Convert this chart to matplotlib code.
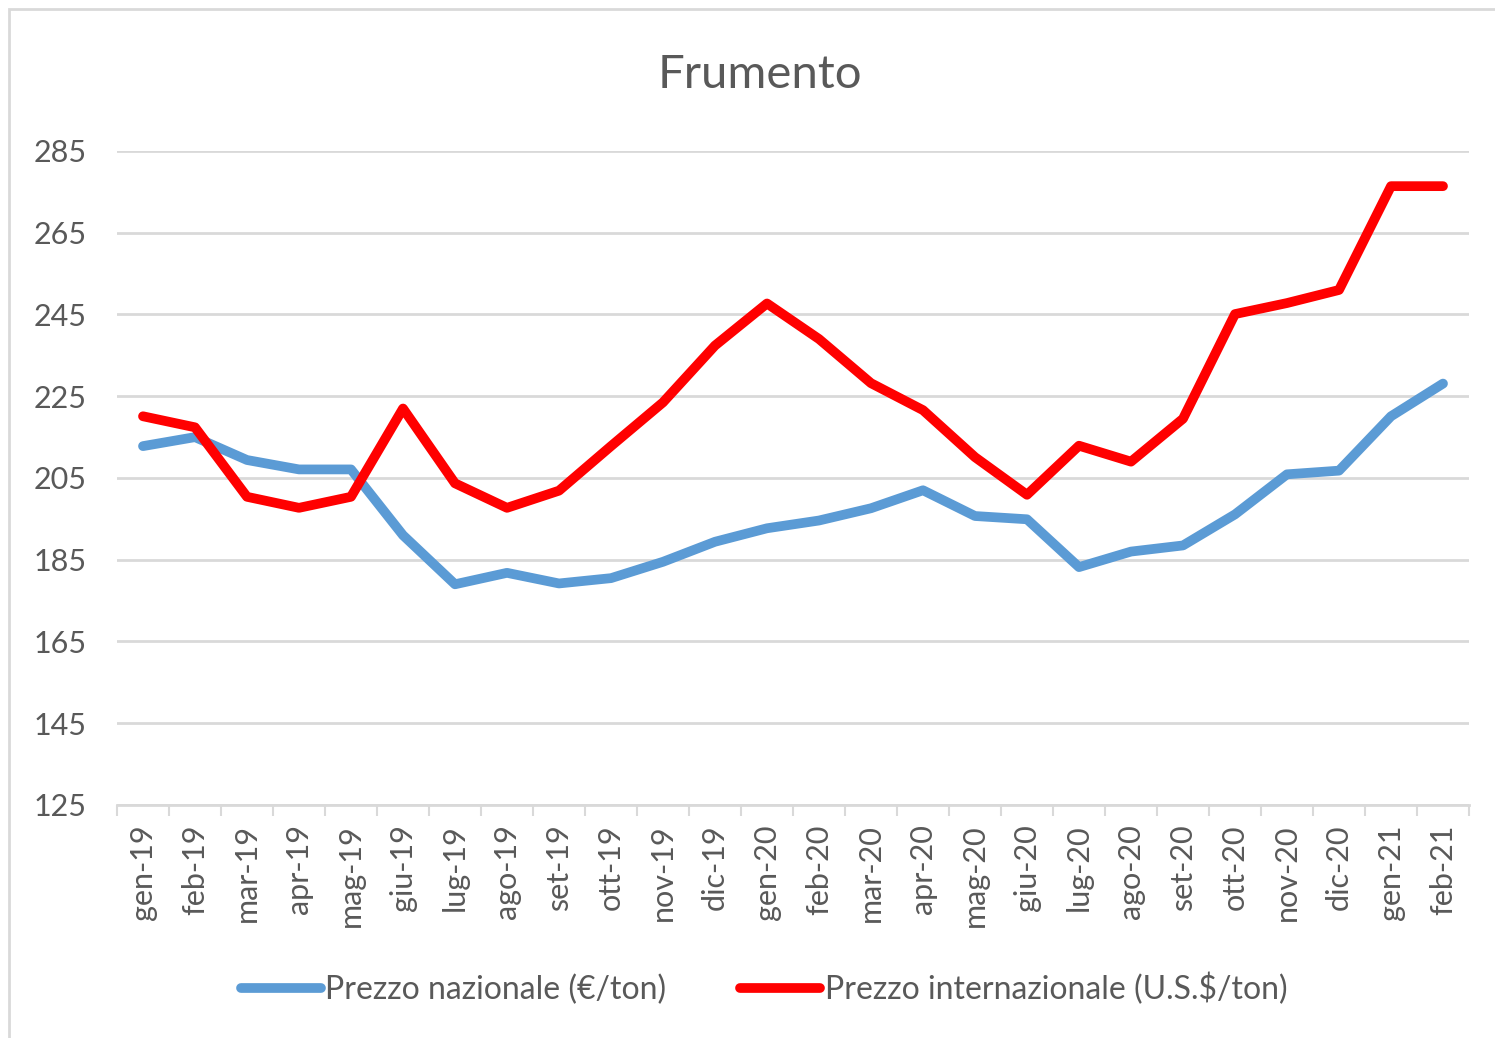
import numpy as np
import matplotlib.pyplot as plt
from matplotlib.patches import Rectangle

plt.rcParams['font.family'] = ['Lato', 'DejaVu Sans']

mesi = ['gen-19', 'feb-19', 'mar-19', 'apr-19', 'mag-19', 'giu-19', 'lug-19',
        'ago-19', 'set-19', 'ott-19', 'nov-19', 'dic-19', 'gen-20', 'feb-20',
        'mar-20', 'apr-20', 'mag-20', 'giu-20', 'lug-20', 'ago-20', 'set-20',
        'ott-20', 'nov-20', 'dic-20', 'gen-21', 'feb-21']

# prezzo nazionale (EUR/ton)
nazionale = [212.8, 215.0, 209.4, 207.1, 207.1, 191.0, 179.0, 181.8, 179.2,
             180.5, 184.5, 189.4, 192.7, 194.6, 197.6, 202.0, 195.7, 194.9,
             183.2, 187.0, 188.5, 196.1, 205.9, 206.8, 220.1, 228.1]

# prezzo internazionale (US$/ton)
internazionale = [220.1, 217.4, 200.4, 197.7, 200.4, 222.0, 203.7, 197.7, 201.9,
                  212.8, 223.5, 237.4, 247.7, 239.0, 228.2, 221.6, 210.1, 200.9,
                  212.9, 209.0, 219.5, 245.1, 247.8, 251.0, 276.4, 276.4]

yticks = [125, 145, 165, 185, 205, 225, 245, 265, 285]

grey_txt = '#595959'
grid_col = '#D9D9D9'

fig = plt.figure(figsize=(14.95, 10.38), dpi=100)
ax = fig.add_axes([117/1495, 1 - 805/1038, 1352/1495, 654/1038])

x = np.arange(len(mesi))
ax.plot(x, nazionale, color='#5B9BD5', lw=7, solid_capstyle='round',
        solid_joinstyle='round', label='Prezzo nazionale (€/ton)')
ax.plot(x, internazionale, color='#FF0000', lw=7, solid_capstyle='round',
        solid_joinstyle='round', label='Prezzo internazionale (U.S.$/ton)')

ax.set_xlim(-0.5, len(mesi) - 0.5)
ax.set_ylim(125, 285)
ax.set_yticks(yticks)
ax.set_xticks(x)
ax.set_xticklabels(mesi, rotation=90)
ax.set_xticks(np.arange(-0.5, len(mesi)), minor=True)
ax.tick_params(axis='x', which='major', length=0, pad=14, labelsize=22, labelcolor=grey_txt)
ax.tick_params(axis='x', which='minor', length=8, width=1.5, color=grid_col)
ax.tick_params(axis='y', length=0, pad=22, labelsize=22, labelcolor=grey_txt)

ax.grid(axis='y', color=grid_col, lw=2)
ax.set_axisbelow(True)
for s in ['top', 'right', 'left']:
    ax.spines[s].set_visible(False)
ax.spines['bottom'].set_color(grid_col)
ax.spines['bottom'].set_linewidth(2)
ax.spines['bottom'].set_zorder(0.5)

fig.text(760/1495, 1 - 75/1038, 'Frumento', ha='center', va='center',
         fontsize=34, color=grey_txt)

fig.legend(loc='center', bbox_to_anchor=(764/1495, 1 - 989/1038), ncol=2,
           frameon=False, fontsize=23, handlelength=2.5, handletextpad=0.15,
           columnspacing=2.3, labelcolor=grey_txt)

# bordo grigio del riquadro del grafico
fig.patches.append(Rectangle((9/1495, -0.5), 1.5, 0.5 + 1 - 9/1038,
                             transform=fig.transFigure, fill=False,
                             edgecolor=grid_col, lw=2))

fig.savefig('out.png', dpi=100)
